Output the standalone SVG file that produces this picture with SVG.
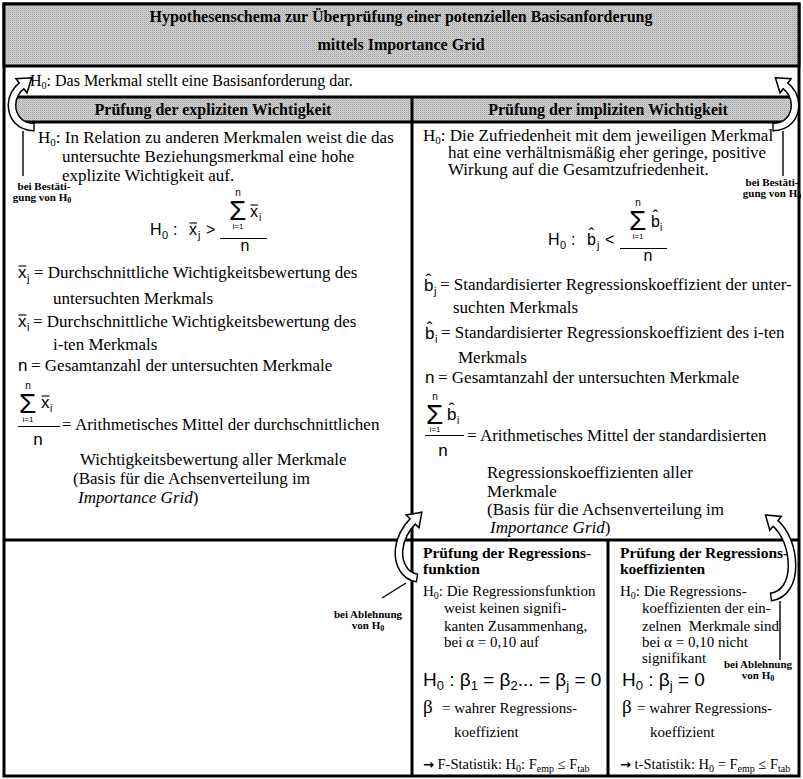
<svg xmlns="http://www.w3.org/2000/svg" width="803" height="779" viewBox="0 0 803 779">
<defs>
<pattern id="hatch" width="2" height="2" patternUnits="userSpaceOnUse">
<rect width="2" height="2" fill="#d6d6d6"/><rect width="1" height="1" fill="#a0a0a0"/><rect x="1" y="1" width="1" height="1" fill="#b8b8b8"/>
</pattern>
<style>
text{font-family:"Liberation Serif","Times New Roman",serif;fill:#000}
.t{font-size:17px}
.m{font-size:16px}
.b{font-size:15px}
.h{font-size:16px;font-weight:bold}
.hb{font-size:15.5px;font-weight:bold}
.lbl{font-size:11px;font-weight:bold}
.f{font-family:"Liberation Sans",Arial,sans-serif}
.sig{font-family:"Liberation Sans",Arial,sans-serif;font-size:28px}
.arr{font-family:"DejaVu Sans",sans-serif;font-size:13px;font-weight:bold}
.ln{stroke:#000;stroke-width:3}
.thin{stroke:#000;stroke-width:1.4;fill:none}
.bar{stroke:#000;stroke-width:1.1}
.bo{fill:none;stroke:#000;stroke-width:9}
.bi{fill:none;stroke:#fff;stroke-width:6}
.hd{fill:#fff;stroke:#000;stroke-width:1.5;stroke-linejoin:miter}
</style>
<path id="a1" d="M34,127 C20,127 12,117 12,105 C12,96 16,90 23,84.5"/>
<path id="a2" d="M773,127 C787,127 795,117 795,105 C795,96 791,90 784,84.5"/>
<path id="a3" d="M417,578 C404,576 398,563 399,550 C400,539 405,529 414,520"/>
<path id="a4" d="M771,597 C785,595 792,582 792,566 C792,549 786,532 774,522"/>
</defs>

<g id="frame">
<rect x="4" y="4" width="795" height="772" fill="#fff" class="ln"/>
<rect x="4" y="4" width="795" height="62" fill="url(#hatch)" class="ln"/>
<rect x="14" y="97" width="778" height="25" fill="url(#hatch)"/>
<line class="ln" x1="14" y1="97" x2="792" y2="97"/>
<line class="ln" x1="14" y1="122" x2="792" y2="122"/>
<line class="ln" x1="412" y1="97" x2="412" y2="776"/>
<line class="ln" x1="4" y1="540" x2="799" y2="540"/>
<line class="ln" x1="608" y1="540" x2="608" y2="776"/>
</g>

<g id="title">
<text class="h" x="401" y="22" text-anchor="middle">Hypothesenschema zur Überprüfung einer potenziellen Basisanforderung</text>
<text class="h" x="401" y="50" text-anchor="middle">mittels Importance Grid</text>
</g>

<g id="hypothesis">
<text class="m" x="30" y="86">H<tspan font-size="10" dy="3">0</tspan><tspan dy="-3">: Das Merkmal stellt eine Basisanforderung dar.</tspan></text>
</g>

<g id="explicit">
<text class="h" x="213" y="115" text-anchor="middle">Prüfung der expliziten Wichtigkeit</text>
<text class="t" x="38" y="143">H<tspan font-size="11" dy="3">0</tspan><tspan dy="-3">: In Relation zu anderen Merkmalen weist die das</tspan></text>
<text class="t" x="62" y="162">untersuchte Beziehungsmerkmal eine hohe</text>
<text class="t" x="62" y="181">explizite Wichtigkeit auf.</text>
<text class="f m" x="150" y="235">H</text>
<text class="f" font-size="11" x="162" y="239">0</text>
<text class="f m" x="173" y="235">:</text>
<text class="f m" x="189" y="235">x</text>
<line class="bar" x1="189.5" y1="223" x2="197" y2="223"/>
<text class="f" font-size="11" x="198" y="239">j</text>
<text class="f m" x="206" y="235">&gt;</text>
<line class="bar" x1="220" y1="238.5" x2="267" y2="238.5"/>
<text class="sig" x="229" y="220">Σ</text>
<text class="f" font-size="10" x="238" y="196" text-anchor="middle">n</text>
<text class="f" font-size="8" x="238" y="229" text-anchor="middle">i=1</text>
<text class="f m" x="250" y="217">x</text>
<line class="bar" x1="250.5" y1="205" x2="258" y2="205"/>
<text class="f" font-size="10" x="259" y="221">i</text>
<text class="f m" x="245" y="251" text-anchor="middle">n</text>

<text class="f t" x="18" y="278">x</text>
<line class="bar" x1="18.5" y1="266" x2="26.5" y2="266"/>
<text class="f" font-size="11" x="27" y="282">j</text>
<text class="t" x="34" y="278">= Durchschnittliche Wichtigkeitsbewertung des</text>
<text class="t" x="53" y="304">untersuchten Merkmals</text>
<text class="f t" x="18" y="327">x</text>
<line class="bar" x1="18.5" y1="315" x2="26.5" y2="315"/>
<text class="f" font-size="11" x="27" y="331">i</text>
<text class="t" x="33" y="327">= Durchschnittliche Wichtigkeitsbewertung des</text>
<text class="t" x="53" y="350">i-ten Merkmals</text>
<text class="f t" x="18" y="371">n</text>
<text class="t" x="31" y="371">= Gesamtanzahl der untersuchten Merkmale</text>
<text class="sig" x="19" y="413">Σ</text>
<text class="f" font-size="10" x="28" y="389" text-anchor="middle">n</text>
<text class="f" font-size="8" x="28" y="422" text-anchor="middle">i=1</text>
<text class="f t" x="41" y="408">x</text>
<line class="bar" x1="41.5" y1="396" x2="49.5" y2="396"/>
<text class="f" font-size="10" x="50" y="412">i</text>
<line class="bar" x1="18" y1="426.5" x2="60" y2="426.5"/>
<text class="f t" x="38" y="445" text-anchor="middle">n</text>
<text class="t" x="62" y="430">= Arithmetisches Mittel der durchschnittlichen</text>
<text class="t" x="80" y="465">Wichtigkeitsbewertung aller Merkmale</text>
<text class="t" x="73" y="484">(Basis für die Achsenverteilung im</text>
<text class="t" x="78" y="503"><tspan font-style="italic">Importance Grid</tspan>)</text>
</g>

<g id="implicit">
<text class="h" x="608" y="115" text-anchor="middle">Prüfung der impliziten Wichtigkeit</text>
<text class="t" x="423" y="141">H<tspan font-size="11" dy="3">0</tspan><tspan dy="-3">: Die Zufriedenheit mit dem jeweiligen Merkmal</tspan></text>
<text class="t" x="448" y="158">hat eine verhältnismäßig eher geringe, positive</text>
<text class="t" x="448" y="175">Wirkung auf die Gesamtzufriedenheit.</text>
<text class="f m" x="548" y="245">H</text>
<text class="f" font-size="11" x="560" y="249">0</text>
<text class="f m" x="571" y="245">:</text>
<text class="f m" x="587" y="245">b</text>
<text class="f m" x="591.5" y="240" text-anchor="middle">ˆ</text>
<text class="f" font-size="11" x="597" y="249">j</text>
<text class="f m" x="605" y="245">&lt;</text>
<line class="bar" x1="620" y1="248.5" x2="667" y2="248.5"/>
<text class="sig" x="629" y="230">Σ</text>
<text class="f" font-size="10" x="638" y="206" text-anchor="middle">n</text>
<text class="f" font-size="8" x="638" y="239" text-anchor="middle">i=1</text>
<text class="f m" x="651" y="227">b</text>
<text class="f m" x="655.5" y="222" text-anchor="middle">ˆ</text>
<text class="f" font-size="10" x="660" y="231">i</text>
<text class="f m" x="648" y="261" text-anchor="middle">n</text>

<text class="f t" x="424" y="291">b</text>
<text class="f t" x="428.7" y="286" text-anchor="middle">ˆ</text>
<text class="f" font-size="11" x="434" y="295">j</text>
<text class="t" x="440" y="290">= Standardisierter Regressionskoeffizient der unter-</text>
<text class="t" x="453" y="313">suchten Merkmals</text>
<text class="f t" x="425" y="339">b</text>
<text class="f t" x="429.7" y="334" text-anchor="middle">ˆ</text>
<text class="f" font-size="11" x="435" y="343">i</text>
<text class="t" x="441" y="338">= Standardisierter Regressionskoeffizient des i-ten</text>
<text class="t" x="458" y="363">Merkmals</text>
<text class="f t" x="425" y="383">n</text>
<text class="t" x="438" y="383">= Gesamtanzahl der untersuchten Merkmale</text>
<text class="sig" x="426" y="424">Σ</text>
<text class="f" font-size="10" x="435" y="400" text-anchor="middle">n</text>
<text class="f" font-size="8" x="435" y="432" text-anchor="middle">i=1</text>
<text class="f t" x="447" y="420">b</text>
<text class="f t" x="451.7" y="415" text-anchor="middle">ˆ</text>
<text class="f" font-size="10" x="457" y="424">i</text>
<line class="bar" x1="425" y1="435.5" x2="464" y2="435.5"/>
<text class="f t" x="443" y="456" text-anchor="middle">n</text>
<text class="t" x="467" y="441">= Arithmetisches Mittel der standardisierten</text>
<text class="t" x="487" y="478">Regressionskoeffizienten aller</text>
<text class="t" x="487" y="497">Merkmale</text>
<text class="t" x="487" y="515">(Basis für die Achsenverteilung im</text>
<text class="t" x="490" y="533"><tspan font-style="italic">Importance Grid</tspan>)</text>
</g>

<g id="regfunction">
<text class="hb" x="423" y="558">Prüfung der Regressions-</text>
<text class="hb" x="423" y="574">funktion</text>
<text class="b" x="423" y="596">H<tspan font-size="10" dy="3">0</tspan><tspan dy="-3">: Die Regressionsfunktion</tspan></text>
<text class="b" x="444" y="613">weist keinen signifi-</text>
<text class="b" x="444" y="631">kanten Zusammenhang,</text>
<text class="b" x="444" y="647">bei α = 0,10 auf</text>
<text class="f" font-size="19" x="423" y="686">H<tspan font-size="13" dy="4">0</tspan><tspan dy="-4"> : β</tspan><tspan font-size="13" dy="4">1</tspan><tspan dy="-4"> = β</tspan><tspan font-size="13" dy="4">2</tspan><tspan dy="-4">... = β</tspan><tspan font-size="13" dy="4">j</tspan><tspan dy="-4"> = 0</tspan></text>
<text font-size="19" x="423" y="713">β</text>
<text class="b" x="442" y="713">= wahrer Regressions-</text>
<text class="b" x="454" y="737">koeffizient</text>
<text font-size="14.5" x="423" y="769"><tspan class="arr">→</tspan> F-Statistik: H<tspan font-size="10" dy="3">0</tspan><tspan dy="-3">: F</tspan><tspan font-size="10" dy="3">emp</tspan><tspan dy="-3"> ≤ F</tspan><tspan font-size="10" dy="3">tab</tspan></text>
</g>

<g id="regcoeff">
<text class="hb" x="620" y="558">Prüfung der Regressions-</text>
<text class="hb" x="620" y="574">koeffizienten</text>
<text class="b" x="620" y="596">H<tspan font-size="10" dy="3">0</tspan><tspan dy="-3">: Die Regressions-</tspan></text>
<text class="b" x="642" y="613">koeffizienten der ein-</text>
<text class="b" x="642" y="631" xml:space="preserve">zelnen  Merkmale sind</text>
<text class="b" x="642" y="647">bei α = 0,10 nicht</text>
<text class="b" x="642" y="663">signifikant</text>
<text class="f" font-size="19" x="622" y="686">H<tspan font-size="13" dy="4">0</tspan><tspan dy="-4"> : β</tspan><tspan font-size="13" dy="4">j</tspan><tspan dy="-4"> = 0</tspan></text>
<text font-size="19" x="622" y="713">β</text>
<text class="b" x="637" y="713">= wahrer Regressions-</text>
<text class="b" x="650" y="737">koeffizient</text>
<text font-size="14.5" x="620" y="769"><tspan class="arr">→</tspan> t-Statistik: H<tspan font-size="10" dy="3">0</tspan><tspan dy="-3"> = F</tspan><tspan font-size="10" dy="3">emp</tspan><tspan dy="-3"> ≤ F</tspan><tspan font-size="10" dy="3">tab</tspan></text>
</g>

<g id="connectors">
<use href="#a1" class="bo"/>
<polygon class="hd" points="31.7,77.7 27,92.8 15.9,78.7"/>
<use href="#a1" class="bi"/>
<line class="thin" x1="34" y1="122.5" x2="34" y2="131.5"/>
<line class="thin" x1="23" y1="131" x2="23" y2="176"/>
<text class="lbl" x="44" y="190" text-anchor="middle">bei Bestäti-</text>
<text class="lbl" x="42" y="200.5" text-anchor="middle">gung von H<tspan font-size="8" dy="2">0</tspan></text>

<use href="#a2" class="bo"/>
<polygon class="hd" points="775.4,77.7 791.1,78.7 780,92.8"/>
<use href="#a2" class="bi"/>
<line class="thin" x1="773" y1="122.5" x2="773" y2="131.5"/>
<line class="thin" x1="783" y1="131" x2="783" y2="176"/>
<text class="lbl" x="772" y="186" text-anchor="middle">bei Bestäti-</text>
<text class="lbl" x="772" y="196.5" text-anchor="middle">gung von H<tspan font-size="8" dy="2">0</tspan></text>

<use href="#a3" class="bo"/>
<polygon class="hd" points="421.8,512.2 419,527.8 406.2,515"/>
<use href="#a3" class="bi"/>
<line class="thin" x1="416.3" y1="582.4" x2="417.7" y2="573.6"/>
<line class="thin" x1="406" y1="583" x2="382" y2="598"/>
<text class="lbl" x="368" y="618" text-anchor="middle">bei Ablehnung</text>
<text class="lbl" x="368" y="628.5" text-anchor="middle">von H<tspan font-size="8" dy="2">0</tspan></text>

<use href="#a4" class="bo"/>
<polygon class="hd" points="765.5,515 781.3,516.4 769.8,530.2"/>
<use href="#a4" class="bi"/>
<line class="thin" x1="771.6" y1="601.5" x2="770.4" y2="592.5"/>
<line class="thin" x1="780" y1="601" x2="780" y2="660"/>
<text class="lbl" x="758" y="668" text-anchor="middle">bei Ablehnung</text>
<text class="lbl" x="758" y="678.5" text-anchor="middle">von H<tspan font-size="8" dy="2">0</tspan></text>
</g>
</svg>
